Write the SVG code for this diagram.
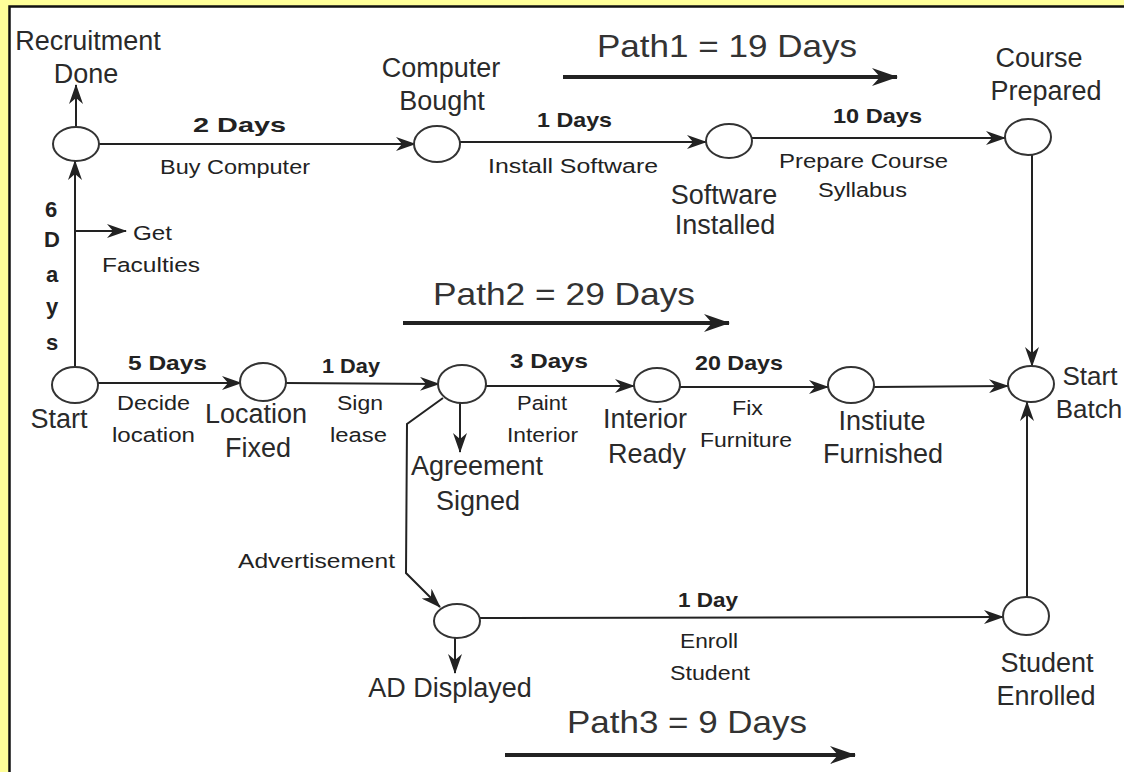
<svg xmlns="http://www.w3.org/2000/svg" width="1124" height="772" viewBox="0 0 1124 772">
<defs>
<style>
.frame{fill:#fff;stroke:#111;stroke-width:2.5}
.node{fill:#fff;stroke:#333;stroke-width:2}
.ln{fill:none;stroke:#222;stroke-width:2}
.big{fill:none;stroke:#222;stroke-width:4}
text{font-family:"Liberation Sans",Arial,sans-serif;fill:#222}
.nl{font-size:27px;text-anchor:middle;fill:#2a2a2a}
.eb{font-size:21px;font-weight:bold}
.en{font-size:20.5px}
.pl{font-size:32px;fill:#333}
.vl{font-size:22px;font-weight:bold;text-anchor:middle}
</style>
<marker id="arr" viewBox="0 0 20 14" refX="19" refY="7" markerWidth="20" markerHeight="14" markerUnits="userSpaceOnUse" orient="auto">
<path d="M0,0 L20,7 L0,14 L6,7 Z" fill="#222"/>
</marker>
<marker id="arrBig" viewBox="0 0 26 18" refX="25" refY="9" markerWidth="26" markerHeight="18" markerUnits="userSpaceOnUse" orient="auto">
<path d="M0,0 L26,9 L0,18 L8,9 Z" fill="#222"/>
</marker>
</defs>
<rect x="0" y="0" width="1124" height="772" fill="#ffff99"/>
<rect class="frame" x="9.5" y="6.5" width="1130" height="780"/>

<g id="connectors">
<line class="ln" x1="75" y1="367" x2="75" y2="161" marker-end="url(#arr)"/>
<line class="ln" x1="75" y1="231" x2="126" y2="231" marker-end="url(#arr)"/>
<line class="ln" x1="76" y1="127" x2="76" y2="85" marker-end="url(#arr)"/>
<line class="ln" x1="99" y1="144" x2="415" y2="144" marker-end="url(#arr)"/>
<line class="ln" x1="460" y1="142" x2="706" y2="142" marker-end="url(#arr)"/>
<line class="ln" x1="752" y1="138" x2="1005" y2="138" marker-end="url(#arr)"/>
<line class="ln" x1="1032" y1="155" x2="1032" y2="366" marker-end="url(#arr)"/>
<line class="ln" x1="98" y1="383" x2="241" y2="383" marker-end="url(#arr)"/>
<line class="ln" x1="286" y1="383" x2="439" y2="384" marker-end="url(#arr)"/>
<line class="ln" x1="485" y1="386" x2="634" y2="386" marker-end="url(#arr)"/>
<line class="ln" x1="680" y1="387" x2="828" y2="387" marker-end="url(#arr)"/>
<line class="ln" x1="874" y1="387" x2="1008" y2="386" marker-end="url(#arr)"/>
<line class="ln" x1="460" y1="402" x2="460" y2="452" marker-end="url(#arr)"/>
<polyline class="ln" points="443,398 407,424 406,573 440,607" marker-end="url(#arr)"/>
<line class="ln" x1="455" y1="638" x2="455" y2="673" marker-end="url(#arr)"/>
<line class="ln" x1="480" y1="618" x2="1003" y2="617" marker-end="url(#arr)"/>
<line class="ln" x1="1027" y1="598" x2="1027" y2="402" marker-end="url(#arr)"/>
<line class="big" x1="563" y1="77" x2="897" y2="77" marker-end="url(#arrBig)"/>
<line class="big" x1="403" y1="323" x2="729" y2="323" marker-end="url(#arrBig)"/>
<line class="big" x1="505" y1="755" x2="855" y2="755" marker-end="url(#arrBig)"/>
</g>

<g id="edge-labels">
<text class="eb" x="193" y="132" textLength="93" lengthAdjust="spacingAndGlyphs">2 Days</text>
<text class="en" x="160" y="174" textLength="150" lengthAdjust="spacingAndGlyphs">Buy Computer</text>
<text class="eb" x="537" y="127" textLength="75" lengthAdjust="spacingAndGlyphs">1 Days</text>
<text class="en" x="488" y="173" textLength="170" lengthAdjust="spacingAndGlyphs">Install Software</text>
<text class="eb" x="833" y="123" textLength="89" lengthAdjust="spacingAndGlyphs">10 Days</text>
<text class="en" x="779" y="168" textLength="169" lengthAdjust="spacingAndGlyphs">Prepare Course</text>
<text class="en" x="818" y="197" textLength="89" lengthAdjust="spacingAndGlyphs">Syllabus</text>
<text class="eb" x="128" y="370" textLength="79" lengthAdjust="spacingAndGlyphs">5 Days</text>
<text class="en" x="117" y="410" textLength="73" lengthAdjust="spacingAndGlyphs">Decide</text>
<text class="en" x="112" y="442" textLength="83" lengthAdjust="spacingAndGlyphs">location</text>
<text class="eb" x="322" y="373" textLength="58" lengthAdjust="spacingAndGlyphs">1 Day</text>
<text class="en" x="337" y="410" textLength="46" lengthAdjust="spacingAndGlyphs">Sign</text>
<text class="en" x="330" y="442" textLength="57" lengthAdjust="spacingAndGlyphs">lease</text>
<text class="eb" x="510" y="368" textLength="78" lengthAdjust="spacingAndGlyphs">3 Days</text>
<text class="en" x="517" y="410" textLength="50" lengthAdjust="spacingAndGlyphs">Paint</text>
<text class="en" x="507" y="442" textLength="71" lengthAdjust="spacingAndGlyphs">Interior</text>
<text class="eb" x="695" y="370" textLength="88" lengthAdjust="spacingAndGlyphs">20 Days</text>
<text class="en" x="732" y="415" textLength="31" lengthAdjust="spacingAndGlyphs">Fix</text>
<text class="en" x="700" y="447" textLength="92" lengthAdjust="spacingAndGlyphs">Furniture</text>
<text class="eb" x="678" y="607" textLength="60" lengthAdjust="spacingAndGlyphs">1 Day</text>
<text class="en" x="680" y="648" textLength="58" lengthAdjust="spacingAndGlyphs">Enroll</text>
<text class="en" x="670" y="680" textLength="80" lengthAdjust="spacingAndGlyphs">Student</text>
<text class="en" x="133" y="240" textLength="39" lengthAdjust="spacingAndGlyphs">Get</text>
<text class="en" x="102" y="272" textLength="98" lengthAdjust="spacingAndGlyphs">Faculties</text>
<text class="en" x="238" y="568" textLength="157" lengthAdjust="spacingAndGlyphs">Advertisement</text>
<text class="vl" x="51" y="217">6</text>
<text class="vl" x="52" y="247">D</text>
<text class="vl" x="52" y="282">a</text>
<text class="vl" x="52" y="314">y</text>
<text class="vl" x="52" y="350">s</text>
<text class="pl" x="597" y="57" textLength="260" lengthAdjust="spacingAndGlyphs">Path1 = 19 Days</text>
<text class="pl" x="433" y="305" textLength="262" lengthAdjust="spacingAndGlyphs">Path2 = 29 Days</text>
<text class="pl" x="567" y="733" textLength="240" lengthAdjust="spacingAndGlyphs">Path3 = 9 Days</text>
</g>

<g id="node-recruitment-done">
<ellipse class="node" cx="76" cy="144" rx="23" ry="17"/>
<text class="nl" x="88" y="50">Recruitment</text>
<text class="nl" x="86" y="83">Done</text>
</g>
<g id="node-computer-bought">
<ellipse class="node" cx="437" cy="144" rx="23" ry="18"/>
<text class="nl" x="441" y="77">Computer</text>
<text class="nl" x="442" y="110">Bought</text>
</g>
<g id="node-software-installed">
<ellipse class="node" cx="729" cy="141" rx="23" ry="17"/>
<text class="nl" x="724" y="204">Software</text>
<text class="nl" x="725" y="234">Installed</text>
</g>
<g id="node-course-prepared">
<ellipse class="node" cx="1028" cy="137" rx="23" ry="18"/>
<text class="nl" x="1039" y="67">Course</text>
<text class="nl" x="1046" y="100">Prepared</text>
</g>
<g id="node-start">
<ellipse class="node" cx="75" cy="385" rx="23" ry="18"/>
<text class="nl" x="59" y="428">Start</text>
</g>
<g id="node-location-fixed">
<ellipse class="node" cx="263" cy="382" rx="23" ry="19"/>
<text class="nl" x="256" y="423">Location</text>
<text class="nl" x="258" y="457">Fixed</text>
</g>
<g id="node-agreement-signed">
<ellipse class="node" cx="462" cy="384" rx="24" ry="19"/>
<text class="nl" x="477" y="475">Agreement</text>
<text class="nl" x="478" y="510">Signed</text>
</g>
<g id="node-interior-ready">
<ellipse class="node" cx="657" cy="385" rx="23" ry="17"/>
<text class="nl" x="645" y="428">Interior</text>
<text class="nl" x="647" y="463">Ready</text>
</g>
<g id="node-institute-furnished">
<ellipse class="node" cx="851" cy="385" rx="23" ry="18"/>
<text class="nl" x="882" y="430">Instiute</text>
<text class="nl" x="883" y="463">Furnished</text>
</g>
<g id="node-start-batch">
<ellipse class="node" cx="1031" cy="384" rx="23" ry="18"/>
<text class="nl" x="1090" y="385" style="font-size:26px">Start</text>
<text class="nl" x="1089" y="418" style="font-size:26px">Batch</text>
</g>
<g id="node-ad-displayed">
<ellipse class="node" cx="457" cy="621" rx="23" ry="17"/>
<text class="nl" x="450" y="697">AD Displayed</text>
</g>
<g id="node-student-enrolled">
<ellipse class="node" cx="1026" cy="616" rx="23" ry="19"/>
<text class="nl" x="1047" y="672">Student</text>
<text class="nl" x="1046" y="705">Enrolled</text>
</g>
</svg>
